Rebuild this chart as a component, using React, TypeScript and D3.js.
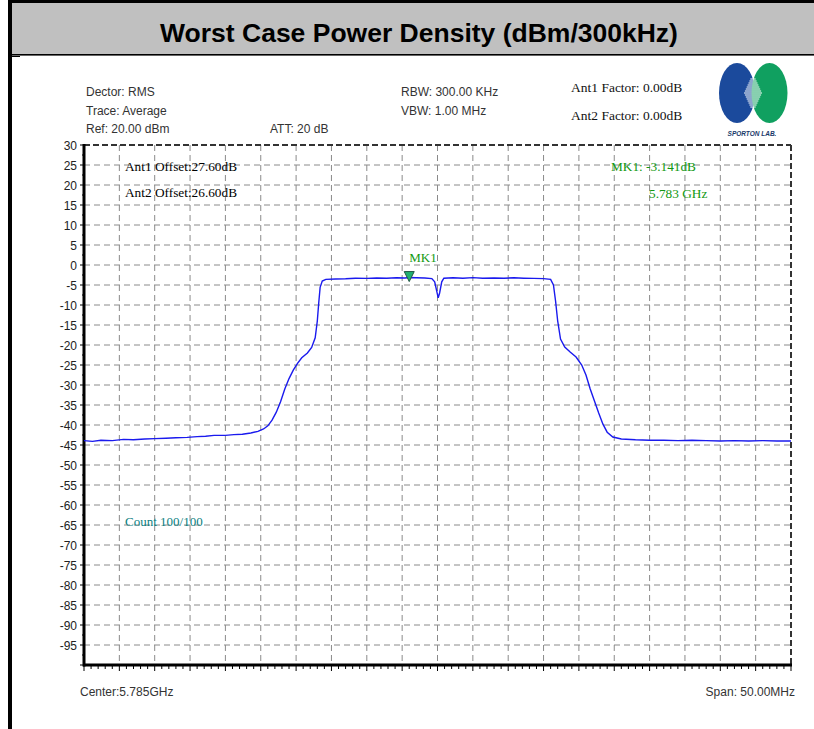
import React from "react";
import * as d3 from "d3";

// Trace data (frequency in MHz, level in dBm)
const freqs: number[] = [
  5760.0, 5760.6, 5761.2, 5762.0, 5762.8, 5763.5, 5764.3, 5765.0, 5765.8, 5766.5,
  5767.3, 5768.0, 5768.6, 5769.2, 5770.0, 5770.6, 5771.2, 5771.8, 5772.3, 5772.7,
  5773.0, 5773.3, 5773.6, 5773.9, 5774.2, 5774.5, 5774.8, 5775.1, 5775.4, 5775.8,
  5776.1, 5776.35, 5776.5, 5776.6, 5776.7, 5776.85, 5777.1, 5777.8, 5778.5, 5779.2,
  5780.0, 5780.7, 5781.4, 5782.1, 5782.7, 5783.0, 5783.5, 5784.1, 5784.6, 5784.8,
  5784.95, 5785.05, 5785.15, 5785.3, 5785.45, 5786.1, 5786.8, 5787.5, 5788.2, 5789.0,
  5789.7, 5790.4, 5791.1, 5791.8, 5792.5, 5793.0, 5793.2, 5793.35, 5793.5, 5793.7,
  5794.0, 5794.4, 5794.8, 5795.2, 5795.5, 5795.8, 5796.1, 5796.4, 5796.7, 5797.0,
  5797.4, 5798.0, 5799.0, 5800.0, 5801.0, 5802.0, 5803.0, 5804.0, 5805.0, 5806.0,
  5807.0, 5808.0, 5809.0, 5810.0,
];
const levels: number[] = [
  -43.9, -44.1, -43.8, -43.9, -43.6, -43.7, -43.5, -43.4, -43.3, -43.2,
  -43.1, -42.9, -42.8, -42.6, -42.6, -42.4, -42.3, -42.0, -41.6, -41.0,
  -40.2, -38.8, -36.8, -34.2, -31.0, -28.4, -26.3, -24.6, -23.2, -22.0,
  -20.6, -18.2, -14.0, -9.5, -5.6, -4.0, -3.6, -3.5, -3.45, -3.3,
  -3.35, -3.25, -3.3, -3.2, -3.25, -3.14, -3.2, -3.25, -3.4, -4.2,
  -6.6, -8.2, -7.0, -4.2, -3.3, -3.2, -3.3, -3.15, -3.3, -3.25,
  -3.3, -3.2, -3.3, -3.35, -3.4, -3.6, -5.0, -9.0, -14.0, -18.5,
  -20.5, -21.8, -23.0, -25.0, -27.5, -31.0, -34.0, -37.0, -39.8, -41.8,
  -43.0, -43.5, -43.7, -43.8, -43.8, -43.9, -43.8, -43.9, -44.0, -43.9,
  -44.0, -43.9, -44.0, -44.0,
];

const yTicks: number[] = [30, 25, 20, 15, 10, 5, 0, -5, -10, -15, -20, -25, -30, -35, -40, -45, -50, -55, -60, -65, -70, -75, -80, -85, -90, -95];

const markerFreq = 5783.0;
const markerLevel = -3.141;

const titleText = "Worst Case Power Density (dBm/300kHz)";
const headerLeft = ["Dector: RMS", "Trace: Average", "Ref: 20.00 dBm"];
const headerAtt = "ATT: 20 dB";
const headerMid = ["RBW: 300.00 KHz", "VBW: 1.00 MHz"];
const headerRight = ["Ant1 Factor: 0.00dB", "Ant2 Factor: 0.00dB"];
const offsets = ["Ant1 Offset:27.60dB", "Ant2 Offset:26.60dB"];
const markerTexts = ["MK1: -3.141dB", "5.783 GHz"];
const countText = "Count 100/100";
const centerText = "Center:5.785GHz";
const spanText = "Span: 50.00MHz";

const W = 814;
const H = 729;
const L = 84, R = 791, T = 145, B = 665;

export default function App() {
  const x = d3.scaleLinear().domain([5760, 5810]).range([L, R]);
  const y = d3.scaleLinear().domain([30, -100]).range([T, B]);
  const pts = freqs.map((f, i) => [f, levels[i]] as [number, number]);
  const line = d3.line<[number, number]>().x(d => x(d[0])).y(d => y(d[1]));
  const vGrid = d3.range(1, 20).map(i => 5760 + i * 2.5);
  const hGrid = d3.range(25, -100, -5);
  const minorX = d3.range(0, 101).map(i => 5760 + i * 0.5);
  const minorY = d3.range(30, -101, -2.5);
  const sans = "Arial, 'Liberation Sans', sans-serif";
  const serif = "'Times New Roman', 'Liberation Serif', serif";
  const mx = x(markerFreq), my = y(markerLevel);
  const grid = "#8a8a8a";
  const stripes = d3.range(0, 15);

  return (
    <svg width={W} height={H} style={{ position: "absolute", left: 0, top: 0, background: "#fff" }}>
      <rect x={0} y={0} width={W} height={H} fill="#fff" />
      {/* frame & title */}
      <rect x={10} y={2} width={W - 10} height={53} fill="#c0c0c0" />
      <rect x={8} y={0} width={W - 8} height={3} fill="#000" />
      <rect x={8} y={0} width={4} height={H} fill="#000" />
      <rect x={12} y={54} width={W - 12} height={1.6} fill="#000" />
      <rect x={12} y={56} width={8} height={1} fill="#000" />
      <text x={419} y={42} textAnchor="middle" fontFamily={sans} fontWeight="bold" fontSize={26.5} fill="#000">{titleText}</text>

      {/* header */}
      <g fontFamily={sans} fontSize={12} fill="#333">
        {headerLeft.map((t, i) => (
          <text key={t} x={86} y={96 + i * 18.5}>{t}</text>
        ))}
        <text x={270} y={133}>{headerAtt}</text>
        {headerMid.map((t, i) => (
          <text key={t} x={401} y={96 + i * 18.5}>{t}</text>
        ))}
      </g>
      <g fontFamily={serif} fontSize={13.5} fill="#111">
        {headerRight.map((t, i) => (
          <text key={t} x={571} y={92 + i * 28}>{t}</text>
        ))}
      </g>

      {/* logo */}
      <g>
        <ellipse cx={737} cy={93} rx={18} ry={30} fill="#1b4a9c" />
        <ellipse cx={769.5} cy={93} rx={18} ry={30} fill="#10a060" />
        {stripes.map(i => {
          const half = 9 - Math.abs(i - 7) * 0.9;
          return (
            <line key={i} x1={753 - half} x2={753 + half} y1={79 + i * 2} y2={79 + i * 2} stroke="#fff" strokeWidth={1} />
          );
        })}
        <text x={752} y={136} textAnchor="middle" fontFamily={sans} fontWeight="bold" fontStyle="italic" fontSize={6.5} fill="#1a3a6a">SPORTON LAB.</text>
      </g>

      {/* grid */}
      <g stroke={grid} strokeWidth={1} strokeDasharray="6,4">
        {vGrid.map(f => (
          <line key={"v" + f} x1={x(f)} x2={x(f)} y1={T} y2={B} />
        ))}
        {hGrid.map(v => (
          <line key={"h" + v} x1={L} x2={R} y1={y(v)} y2={y(v)} />
        ))}
      </g>
      {/* top & right dashed border */}
      <g stroke="#333" strokeWidth={2} strokeDasharray="6,3">
        <line x1={L} x2={R} y1={T} y2={T} />
        <line x1={R} x2={R} y1={T} y2={B} />
      </g>

      {/* axes */}
      <g stroke="#000">
        {minorX.map((f, i) => (
          <line key={"mx" + i} x1={x(f)} x2={x(f)} y1={B} y2={B + (i % 5 === 0 ? 6 : 4)} strokeWidth={1} />
        ))}
        {minorY.map((v, i) => (
          <line key={"my" + i} x1={L - (i % 2 === 0 ? 4 : 2)} x2={L} y1={y(v)} y2={y(v)} strokeWidth={1} />
        ))}
        <line x1={L} x2={L} y1={T - 1} y2={B + 1.5} strokeWidth={3} />
        <line x1={L - 1} x2={R + 1} y1={B} y2={B} strokeWidth={3} />
      </g>
      <g fontFamily={sans} fontSize={12} fill="#222" textAnchor="end">
        {yTicks.map(v => (
          <text key={v} x={77} y={y(v) + 4.5}>{v}</text>
        ))}
      </g>

      {/* trace */}
      <path d={line(pts) || ""} fill="none" stroke="#1a1aee" strokeWidth={1.4} />

      {/* marker */}
      <path d={`M${mx - 5},${my - 6} L${mx + 5},${my - 6} L${mx},${my + 4} Z`} fill="#1fb070" stroke="#225544" strokeWidth={1} />
      <text x={mx} y={262} fontFamily={serif} fontSize={13} fill="#119911">MK1</text>

      {/* annotations */}
      <g fontFamily={serif} fontSize={13.3} fill="#000">
        <text x={125} y={171}>{offsets[0]}</text>
        <text x={125} y={197}>{offsets[1]}</text>
      </g>
      <g fontFamily={serif} fontSize={13.3} fill="#119911">
        <text x={611} y={171}>{markerTexts[0]}</text>
        <text x={649} y={198}>{markerTexts[1]}</text>
      </g>
      <text x={125} y={526} fontFamily={serif} fontSize={13} fill="#0a7f7f">{countText}</text>

      {/* bottom labels */}
      <g fontFamily={sans} fontSize={12} fill="#333">
        <text x={80} y={696}>{centerText}</text>
        <text x={795} y={696} textAnchor="end">{spanText}</text>
      </g>
    </svg>
  );
}
